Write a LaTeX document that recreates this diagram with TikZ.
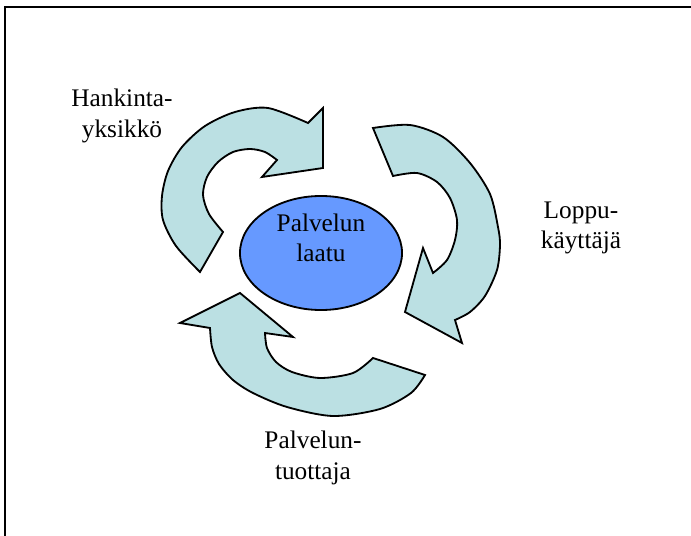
\documentclass[tikz,border=0pt]{standalone}
\usepackage{fontspec}
\setmainfont{Liberation Serif}
\usetikzlibrary{shapes.geometric}

\definecolor{arrowfill}{RGB}{187,224,227}
\definecolor{corefill}{RGB}{102,153,255}

\tikzset{
    arrowbody/.style={fill=arrowfill, draw=black, line width=1.3pt, line join=miter},
    rolelabel/.style={align=center, font=\fontsize{18}{21.5}\selectfont},
}

\begin{document}
\begin{tikzpicture}[x=0.025cm, y=-0.025cm, every node/.style={inner sep=0pt}]
        % page area and frame
        \clip (0,0) rectangle (691,536);
        \fill[white] (0,0) rectangle (691,536);
        \draw[line width=1.2pt] (5,560) -- (5,7) -- (720,7);
        % upper left arrow
        \filldraw[arrowbody] (200,272) -- plot[smooth] coordinates
        {(200,272) (176,246) (163,220) (162,196) (168,171) (182,147) (205,126) (235,112) (268,108) (308,123)}
        -- (323,108) -- (323,168) -- (262,177) -- plot[smooth] coordinates
        {(277,160) (265,152) (250,149) (233,152) (218,162) (207,177) (203,195) (209,214) (223,232)} -- cycle;
        % right arrow
        \filldraw[arrowbody] (373,128) -- plot[smooth] coordinates
        {(373,128) (410,125) (443,137) (470,163) (490,194) (498,227) (500,245) (497,270) (485,296) (470,312) (455,320)}
        -- (462,343) -- (405,312) -- (423,248) -- plot[smooth] coordinates
        {(433,273) (447,260) (455,240) (457,220) (450,198) (437,182) (417,173) (393,176)} -- cycle;
        % lower arrow
        \filldraw[arrowbody] (425,375) -- plot[smooth] coordinates
        {(425,375) (411,393) (380,409) (333,416) (287,407) (253,393) (233,380) (219,364) (212,347) (210,328)}
        -- (180,323) -- (240,293) -- (293,337) -- plot[smooth] coordinates
        {(265,333) (267,348) (276,362) (292,372) (320,378) (353,373) (373,358)} -- cycle;
        % centre
        \node[ellipse, draw=black, line width=1.3pt, fill=corefill,
            minimum width=4.05cm, minimum height=2.85cm] (laatu) at (321,253) {};
        \node[rolelabel] (laatuteksti) at (321,238) {Palvelun\\laatu};
        % roles
        \node[rolelabel] (hankinta) at (122,116) {Hankinta-\\yksikkö};
        \node[rolelabel] (loppu) at (581,228) {Loppu-\\käyttäjä};
        \node[rolelabel] (tuottaja) at (313,458) {Palvelun-\\tuottaja};
\end{tikzpicture}
\end{document}
